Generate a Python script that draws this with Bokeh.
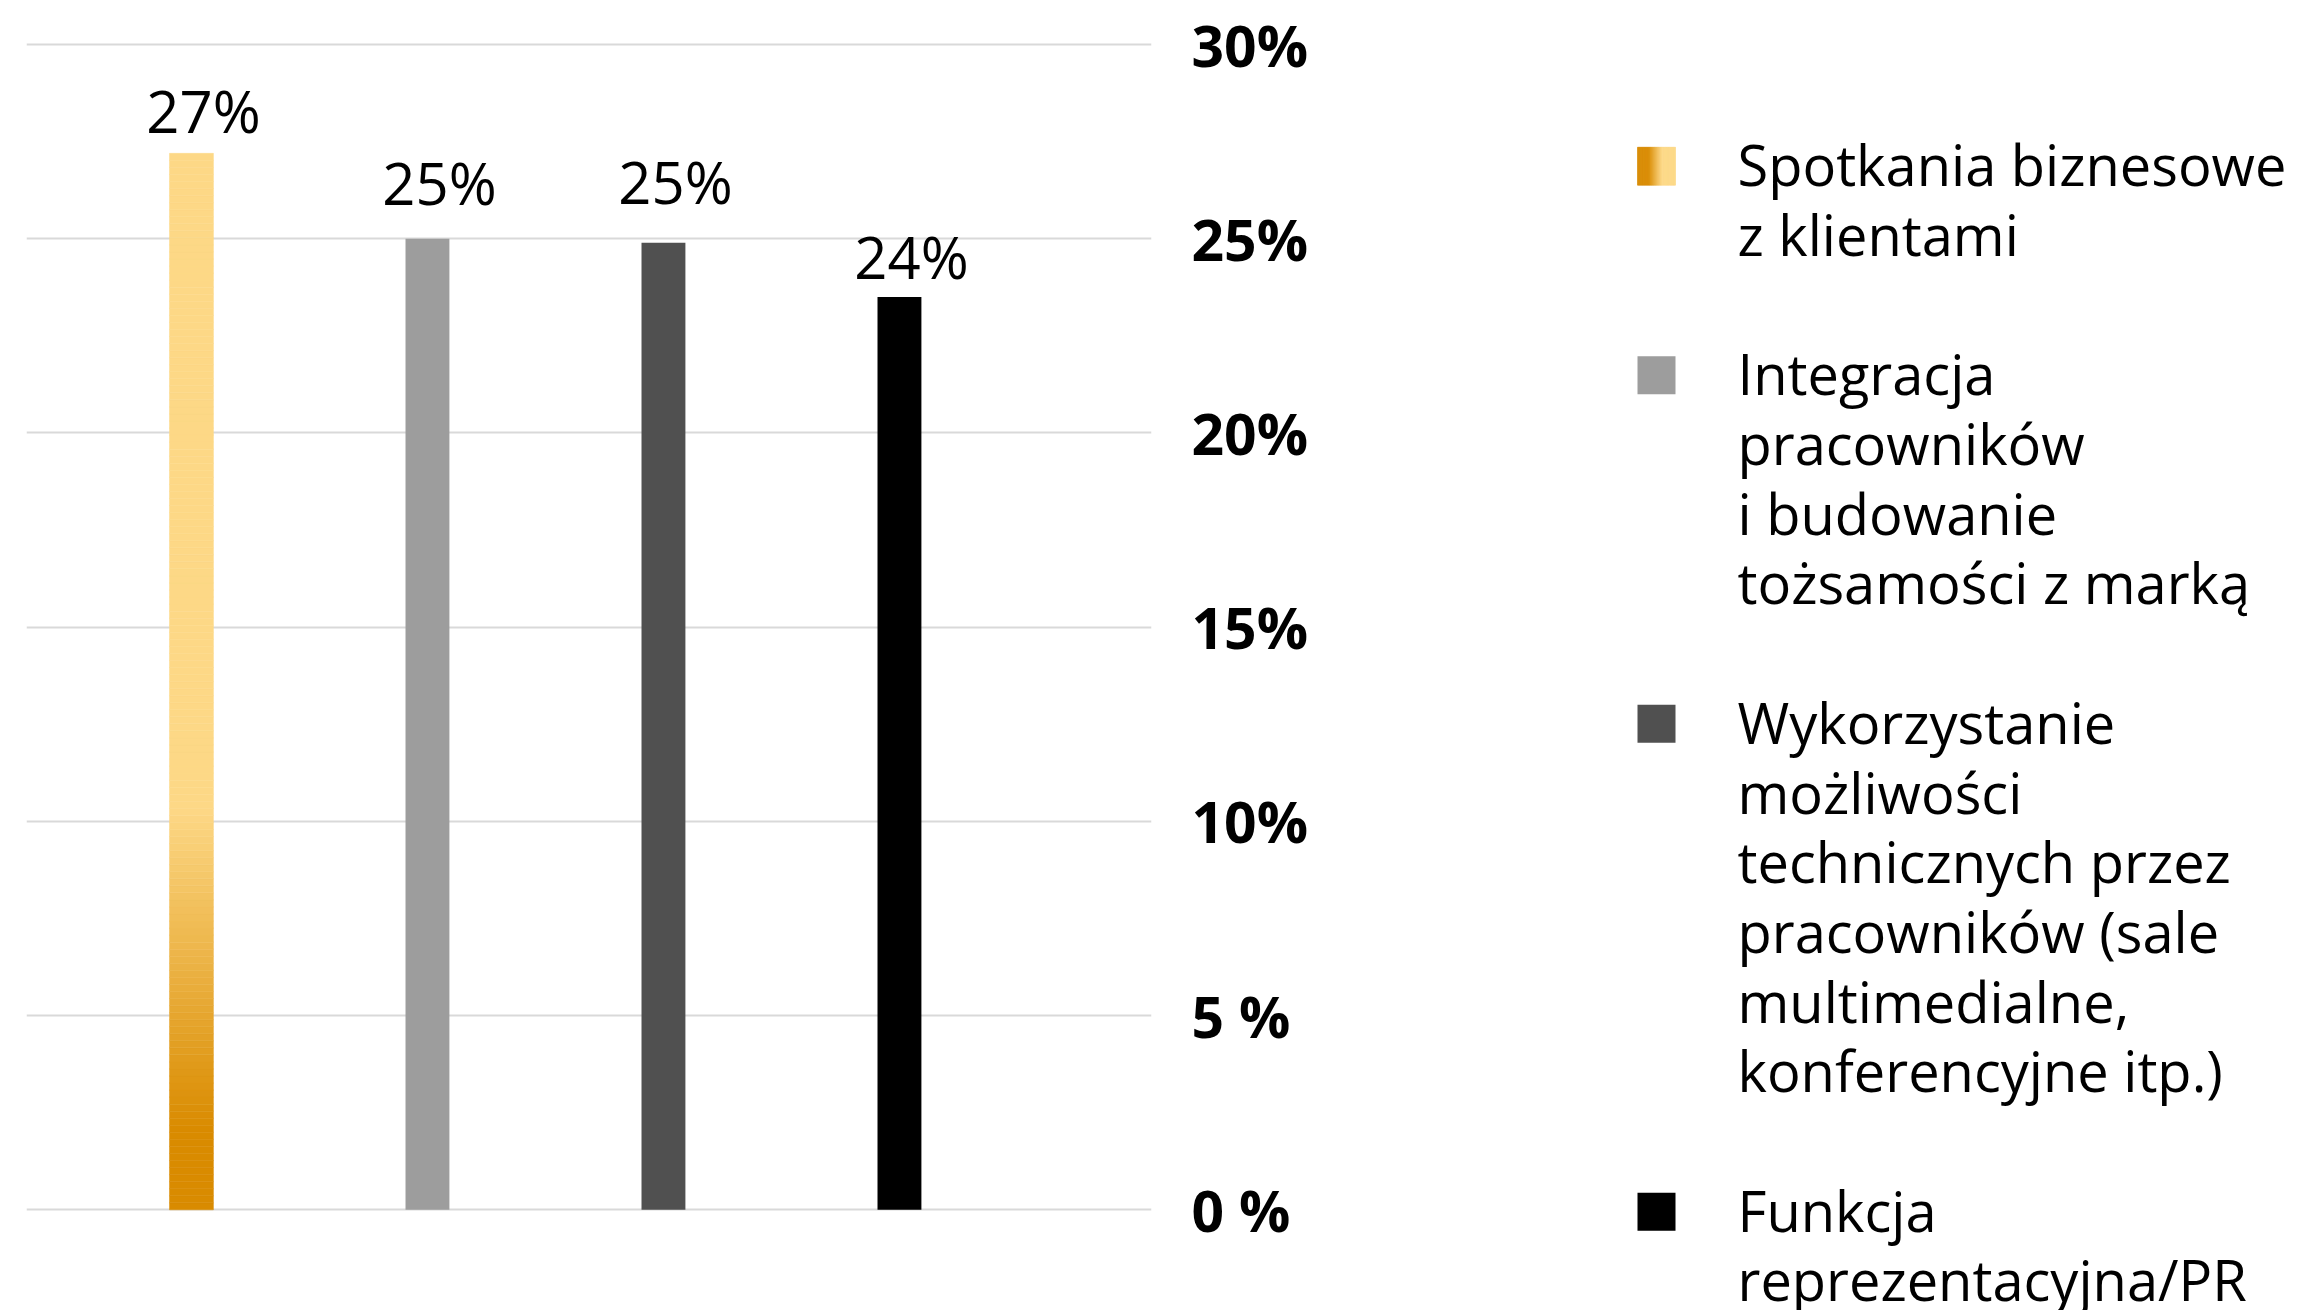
from bokeh.plotting import figure
from bokeh.layouts import row
from bokeh.models import Range1d, FixedTicker, ColumnDataSource
from bokeh.core.properties import value
from bokeh.embed import file_html
from bokeh.resources import INLINE

# ---------------- data ----------------
categories = [
    "Spotkania biznesowe\nz klientami",
    "Integracja\npracowników\ni budowanie\ntożsamości z marką",
    "Wykorzystanie\nmożliwości\ntechnicznych przez\npracowników (sale\nmultimedialne,\nkonferencyjne itp.)",
    "Funkcja\nreprezentacyjna/PR",
]
values = [27.2, 25.0, 24.9, 23.5]
value_labels = ["27%", "25%", "25%", "24%"]
tick_values = [0, 5, 10, 15, 20, 25, 30]
tick_labels = ["0 %", "5 %", "10%", "15%", "20%", "25%", "30%"]
bar_colors = [None, "#9D9D9D", "#505050", "#000000"]

# label offsets (style, screen pixels)
label_y_offsets = [-43, -56, -61, -41]

# ---------------- helpers ----------------
ORANGE = (217, 139, 0)
YELLOW = (253, 216, 134)


def mix(c1, c2, t):
    t = max(0.0, min(1.0, t))
    return "#%02x%02x%02x" % tuple(int(round(a + (b - a) * t)) for a, b in zip(c1, c2))


FONT = "Open Sans"

# ---------------- chart ----------------
p = figure(
    width=1600, height=1310,
    x_range=Range1d(-0.699, 4.068), y_range=Range1d(-2.593, 31.135),
    y_axis_location="right",
    output_backend="svg", toolbar_location=None,
    min_border_left=26, min_border_right=449, min_border_top=0, min_border_bottom=0,
)
p.outline_line_color = None
p.background_fill_color = "white"
p.border_fill_color = "white"
p.xaxis.visible = False
p.xgrid.grid_line_color = None
p.ygrid.grid_line_color = "#d9d9d9"
p.ygrid.grid_line_width = 2
p.yaxis.ticker = FixedTicker(ticks=tick_values)
p.yaxis.major_label_overrides = {v: l for v, l in zip(tick_values, tick_labels)}
p.yaxis.axis_line_color = None
p.yaxis.major_tick_line_color = None
p.yaxis.minor_tick_line_color = None
p.yaxis.major_label_standoff = 34
p.yaxis.major_label_text_font = FONT
p.yaxis.major_label_text_font_style = "bold"
p.yaxis.major_label_text_font_size = "57px"
p.yaxis.major_label_text_color = "black"
p.ygrid.ticker = FixedTicker(ticks=tick_values)

xs = list(range(len(values)))
bar_w = 0.186

# gradient first bar (stacked thin segments)
n_seg = 150
v0 = values[0]
bottoms, tops, cols = [], [], []
for i in range(n_seg):
    b = v0 * i / n_seg
    t = v0 * (i + 1) / n_seg
    frac = ((b + t) / 2) / v0
    cols.append(mix(ORANGE, YELLOW, (frac - 0.077) / (0.38 - 0.077)))
    bottoms.append(b)
    tops.append(t)
p.quad(left=[xs[0] - bar_w / 2] * n_seg, right=[xs[0] + bar_w / 2] * n_seg,
       bottom=bottoms, top=tops, fill_color=cols, line_color=cols, line_width=0.5)

# other bars
src = ColumnDataSource(dict(x=xs[1:], top=values[1:], color=bar_colors[1:]))
p.vbar(x="x", top="top", width=bar_w, bottom=0, fill_color="color", line_color=None, source=src)

# value labels
lab = ColumnDataSource(dict(x=xs, y=values, t=value_labels, yo=label_y_offsets))
p.text(x="x", y="y", text="t", source=lab, text_align="center", text_baseline="alphabetic",
       x_offset=12, y_offset="yo", text_font=value(FONT), text_font_size="58px", text_color="black")

# ---------------- legend panel ----------------
lg = figure(
    width=700, height=1310,
    x_range=Range1d(0, 700), y_range=Range1d(1310, 0),
    output_backend="svg", toolbar_location=None,
    min_border=0,
)
lg.outline_line_color = None
lg.axis.visible = False
lg.grid.visible = False
lg.background_fill_color = "white"
lg.border_fill_color = "white"

line_h = 69.7
first_base = 186.7
text_shift = 23
sq_x0, sq_size = 37, 38
text_x = 137

tx, ty, tt = [], [], []
idx = 0
for k, cat in enumerate(categories):
    lines = cat.split("\n")
    base = first_base + idx * line_h
    cy = base - 21
    if k == 0:
        m = 60
        for j in range(m):
            f = (j + 0.5) / m
            c = mix(ORANGE, YELLOW, (f - 0.3) / (0.65 - 0.3))
            lg.quad(left=[sq_x0 + sq_size * j / m], right=[sq_x0 + sq_size * (j + 1) / m],
                    top=[cy - sq_size / 2], bottom=[cy + sq_size / 2],
                    fill_color=c, line_color=c, line_width=0.5)
    else:
        lg.quad(left=[sq_x0], right=[sq_x0 + sq_size], top=[cy - sq_size / 2], bottom=[cy + sq_size / 2],
                fill_color=bar_colors[k], line_color=None)
    for j, ln in enumerate(lines):
        tx.append(text_x)
        ty.append(base + j * line_h - text_shift)
        tt.append(ln)
    idx += len(lines) + 1

lg.text(x=tx, y=ty, text=tt, text_align="left", text_baseline="alphabetic",
        text_font=value(FONT), text_font_size="56px", text_color="black")

layout = row(p, lg, spacing=0)
open("out.html", "w").write(file_html(layout, INLINE))
